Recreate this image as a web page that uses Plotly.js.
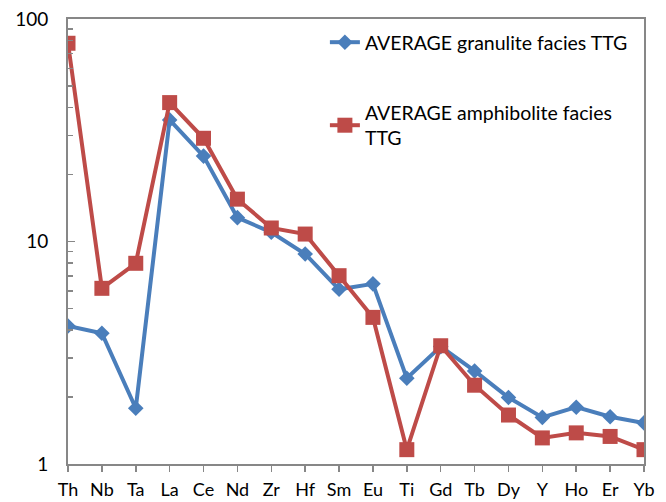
<!DOCTYPE html>
<html>
<head>
<meta charset="utf-8">
<script src="https://cdn.plot.ly/plotly-3.0.1.min.js"></script>
<style>html,body{margin:0;padding:0;background:#fff;}#chart{width:666px;height:502px;}</style>
</head>
<body>
<div id="chart"></div>
<script>
var elements = ["Th","Nb","Ta","La","Ce","Nd","Zr","Hf","Sm","Eu","Ti","Gd","Tb","Dy","Y","Ho","Er","Yb"];
var granulite = [4.17,3.87,1.78,35.2,24.2,12.8,11.0,8.79,6.10,6.45,2.43,3.37,2.62,1.99,1.62,1.80,1.63,1.53];
var amphibolite = [77.8,6.16,7.98,42.1,29.1,15.5,11.5,10.8,7.02,4.56,1.16,3.40,2.26,1.66,1.31,1.38,1.33,1.16];
var granuliteName = "AVERAGE granulite facies TTG";
var amphiboliteName = "AVERAGE amphibolite facies<br>TTG";
var yTickVals = [1,10,100];
var yTickText = ["1","10","100"];
var yMinorVals = [2,3,4,5,6,7,8,9,20,30,40,50,60,70,80,90];

var FONT = "Lato, 'Open Sans', sans-serif";
var idx = elements.map(function(_, i){ return i; });

var traces = [
  {x: idx, y: granulite, name: granuliteName, type: "scatter", mode: "lines+markers",
   legendgroup: "a",
   line: {color: "#4a7ebb", width: 4},
   marker: {symbol: "diamond", size: 12, color: "#4a7ebb"}},
  {x: idx, y: amphibolite, name: amphiboliteName, type: "scatter", mode: "lines+markers",
   legendgroup: "b",
   line: {color: "#be4b48", width: 4},
   marker: {symbol: "square", size: 15, color: "#be4b48"}}
];

var layout = {
  width: 666, height: 502,
  margin: {l: 68, r: 22, t: 19, b: 38},
  paper_bgcolor: "#fff", plot_bgcolor: "#fff",
  font: {family: FONT, size: 19, color: "#000"},
  showlegend: true,
  legend: {x: 0.446, y: 0.991, xanchor: "left", yanchor: "top",
           bgcolor: "rgba(0,0,0,0)", traceorder: "grouped", tracegroupgap: 42,
           font: {family: FONT, size: 19.5, color: "#000"}},
  xaxis: {
    range: [0, 17], tickmode: "array", tickvals: idx, ticktext: elements,
    showgrid: false, zeroline: false, showline: true, linecolor: "#878787", linewidth: 2,
    mirror: true, ticks: "outside", ticklen: 6, tickcolor: "#878787", tickwidth: 1.5,
    ticklabelstandoff: 2,
    tickfont: {family: FONT, size: 18, color: "#000"}
  },
  yaxis: {
    type: "log", range: [0, 2], tickmode: "array", tickvals: yTickVals, ticktext: yTickText,
    showgrid: false, zeroline: false, showline: true, linecolor: "#878787", linewidth: 2,
    mirror: true, ticks: "inside", ticklen: 7, tickcolor: "#878787", tickwidth: 1.5,
    ticklabelstandoff: 14,
    minor: {tickmode: "array", tickvals: yMinorVals, ticks: "inside", ticklen: 5, tickcolor: "#878787", tickwidth: 1.5, showgrid: false},
    tickfont: {family: FONT, size: 19, color: "#000"}
  }
};

Plotly.newPlot("chart", traces, layout, {displayModeBar: false, staticPlot: true});
</script>
</body>
</html>
